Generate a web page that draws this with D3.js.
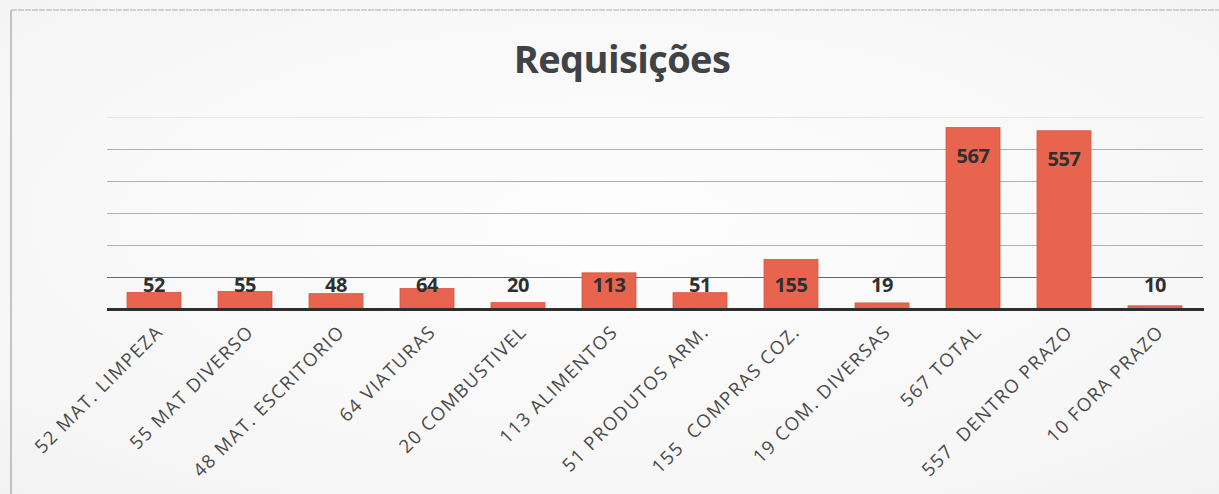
<!DOCTYPE html>
<html>
<head>
<meta charset="utf-8">
<script src="https://cdn.jsdelivr.net/npm/d3@7"></script>
<style>
  html, body { margin: 0; padding: 0; background: #f6f5f5; }
  svg { display: block; }
</style>
</head>
<body>
<svg id="chart" width="1219" height="494"></svg>
<script>
// Requisições por tipo
const categories = [
  "52 MAT. LIMPEZA", "55 MAT DIVERSO", "48 MAT. ESCRITORIO", "64 VIATURAS",
  "20 COMBUSTIVEL", "113 ALIMENTOS", "51 PRODUTOS ARM.", "155  COMPRAS COZ.",
  "19 COM. DIVERSAS", "567 TOTAL", "557  DENTRO PRAZO", "10 FORA PRAZO"
];
const values = [52, 55, 48, 64, 20, 113, 51, 155, 19, 567, 557, 10];
const gridValues = [100, 200, 300, 400, 500, 600];
const title = "Requisições";

const W = 1219, H = 494;
const svg = d3.select("#chart");

// paper background with a slightly brighter centre
const defs = svg.append("defs");
const grad = defs.append("radialGradient").attr("id", "paper")
  .attr("cx", "50%").attr("cy", "45%").attr("r", "80%");
grad.append("stop").attr("offset", "0%").attr("stop-color", "#fdfdfd");
grad.append("stop").attr("offset", "75%").attr("stop-color", "#f7f6f6");
grad.append("stop").attr("offset", "100%").attr("stop-color", "#f1f0f0");
svg.append("rect").attr("width", W).attr("height", H).attr("fill", "url(#paper)");

// frame
svg.append("line").attr("x1", 11).attr("x2", 11).attr("y1", 10).attr("y2", H)
  .attr("stroke", "#b0b0b0").attr("stroke-width", 1.5);
svg.append("line").attr("x1", 11).attr("x2", W).attr("y1", 10).attr("y2", 10)
  .attr("stroke", "#c4c4c4").attr("stroke-width", 1.5).attr("stroke-dasharray", "6 1");

const plot = { left: 108.5, right: 1200.5, top: 117, bottom: 309 };

const x = d3.scaleBand()
  .domain(categories)
  .range([plot.left, plot.right])
  .paddingInner(0.407)
  .paddingOuter(0.2035);

const y = d3.scaleLinear()
  .domain([0, 600])
  .range([plot.bottom, plot.top]);

// title
svg.append("text")
  .attr("x", 622).attr("y", 73)
  .attr("text-anchor", "middle")
  .attr("font-family", "'Open Sans', sans-serif")
  .attr("font-weight", 700)
  .attr("font-size", 38)
  .attr("letter-spacing", -0.6)
  .attr("fill", "#3f4346")
  .text(title);

// gridlines
svg.append("g").selectAll("line")
  .data(gridValues)
  .join("line")
  .attr("x1", 107).attr("x2", 1203)
  .attr("y1", d => Math.round(y(d)) + 0.5)
  .attr("y2", d => Math.round(y(d)) + 0.5)
  .attr("stroke", d => d === 100 ? "#666" : (d === 600 ? "#e6e6e6" : "#b0b0b0"))
  .attr("stroke-width", 1.2);

// bars
svg.append("g").selectAll("rect")
  .data(values)
  .join("rect")
  .attr("x", (d, i) => x(categories[i]))
  .attr("y", d => y(d))
  .attr("width", x.bandwidth())
  .attr("height", d => y(0) - y(d))
  .attr("fill", "#e8644f")
  .attr("stroke", "#d9553f")
  .attr("stroke-width", 0.8);

// baseline
svg.append("line")
  .attr("x1", 107).attr("x2", 1204)
  .attr("y1", y(0) + 0.5).attr("y2", y(0) + 0.5)
  .attr("stroke", "#2e2e2e").attr("stroke-width", 3);

// value labels
svg.append("g").selectAll("text")
  .data(values)
  .join("text")
  .attr("x", (d, i) => x(categories[i]) + x.bandwidth() / 2)
  .attr("y", d => Math.min(y(d) + 35, 292))
  .attr("text-anchor", "middle")
  .attr("font-family", "'Open Sans', sans-serif")
  .attr("font-weight", 700)
  .attr("font-size", 20)
  .attr("letter-spacing", -0.5)
  .attr("fill", "#2f2f2f")
  .text(d => d);

// category labels, rotated
svg.append("g").selectAll("text")
  .data(categories)
  .join("text")
  .attr("transform", d => `translate(${x(d) + x.bandwidth() / 2 + 10},${plot.bottom + 24}) rotate(-45)`)
  .attr("text-anchor", "end")
  .attr("font-family", "'Open Sans', sans-serif")
  .attr("font-size", 18.5)
  .attr("letter-spacing", 1.5)
  .attr("fill", "#4a4a4a")
  .attr("xml:space", "preserve")
  .style("white-space", "pre")
  .text(d => d);
</script>
</body>
</html>
